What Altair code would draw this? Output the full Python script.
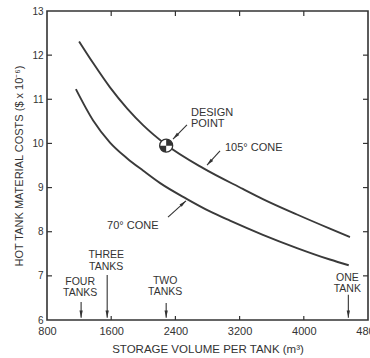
import altair as alt
import pandas as pd

# ---- data ----
x_ticks = [800, 1600, 2400, 3200, 4000, 4800]
y_ticks = [6, 7, 8, 9, 10, 11, 12, 13]

cone105_x = [1200, 1375, 1585, 1800, 2000, 2285, 2745, 3240, 3490, 3915, 4325, 4575]
cone105_y = [12.31, 11.82, 11.27, 10.79, 10.41, 9.97, 9.44, 8.97, 8.74, 8.39, 8.07, 7.88]

cone70_x = [1160, 1375, 1585, 1800, 2000, 2210, 2545, 2830, 3080, 3490, 3915, 4325, 4560]
cone70_y = [11.23, 10.52, 10.02, 9.66, 9.38, 9.10, 8.74, 8.46, 8.25, 7.93, 7.63, 7.37, 7.24]

design_x = [2285]
design_y = [9.95]

tank_line1 = ["FOUR", "THREE", "TWO", "ONE"]
tank_line2 = ["TANKS", "TANKS", "TANKS", "TANK"]
tank_x = [1225, 1550, 2285, 4555]
tank_y1 = [6.87, 7.47, 6.89, 6.96]
tank_y2 = [6.61, 7.21, 6.63, 6.70]
tank_arrow_top = [6.41, 7.02, 6.385, 6.57]
tank_arrow_tip = [6.05, 6.05, 6.05, 6.05]

note_text = ["DESIGN", "POINT", "105° CONE", "70° CONE"]
note_x = [2594, 2594, 3018, 1548]
note_y = [10.70, 10.44, 9.90, 8.13]

arrow_x = [2544, 2956, 2308]
arrow_y = [10.42, 9.83, 8.33]
arrow_tip_x = [2370, 2794, 2532]
arrow_tip_y = [10.10, 9.51, 8.70]
arrow_angle = [225, 223, 48]

# ---- layout / style ----
W, H = 321, 309
INK = "#333333"
FONT = "Liberation Sans"

xs = alt.Scale(domain=[800, 4800], nice=False, zero=False)
ys = alt.Scale(domain=[6, 13], nice=False, zero=False)

curves = pd.DataFrame({
    "v": cone105_x + cone70_x,
    "c": cone105_y + cone70_y,
    "s": ["105"] * len(cone105_x) + ["70"] * len(cone70_x),
})

base_line = alt.Chart(curves).mark_line(
    color="#3a3a3a", strokeWidth=1.9, interpolate="monotone"
).encode(
    x=alt.X("v:Q", scale=xs, axis=alt.Axis(
        values=x_ticks, format="d", domain=False, ticks=False, grid=False,
        labelFlush=False, labelOverlap=False, labelFont=FONT, labelFontSize=11,
        labelColor=INK, labelPadding=5, title="STORAGE VOLUME PER TANK (m³)",
        titleFont=FONT, titleFontSize=11.5, titleFontWeight="normal",
        titleColor=INK, titlePadding=7)),
    y=alt.Y("c:Q", scale=ys, axis=alt.Axis(
        values=y_ticks, domain=False, ticks=False, grid=False, labelFont=FONT,
        labelFontSize=10, labelColor=INK, labelPadding=4,
        title="HOT TANK MATERIAL COSTS ($ x 10⁻⁶)", titleFont=FONT,
        titleFontSize=11, titleFontWeight="normal", titleColor=INK, titlePadding=7)),
    detail="s:N",
)

# inward ticks
yt = pd.DataFrame({"t": y_ticks[1:-1]})
xt = pd.DataFrame({"t": x_ticks[1:-1]})
left_ticks = alt.Chart(yt).mark_rule(color=INK, strokeWidth=1.2).encode(
    y=alt.Y("t:Q", scale=ys), x=alt.value(0), x2=alt.value(5))
right_ticks = alt.Chart(yt).mark_rule(color=INK, strokeWidth=1.2).encode(
    y=alt.Y("t:Q", scale=ys), x=alt.value(W - 5), x2=alt.value(W))
bottom_ticks = alt.Chart(xt).mark_rule(color=INK, strokeWidth=1.2).encode(
    x=alt.X("t:Q", scale=xs), y=alt.value(H - 4), y2=alt.value(H))
top_ticks = alt.Chart(xt).mark_rule(color=INK, strokeWidth=1.2).encode(
    x=alt.X("t:Q", scale=xs), y=alt.value(0), y2=alt.value(5))

# design point
dp = pd.DataFrame({"v": design_x, "c": design_y})
dp_circle = alt.Chart(dp).mark_point(
    shape="circle", filled=True, fill="white", stroke=INK, strokeWidth=1.3,
    size=169, opacity=1
).encode(x=alt.X("v:Q", scale=xs), y=alt.Y("c:Q", scale=ys))
dp_quads = alt.Chart(dp).mark_point(
    shape="M0,0L0,-1A1,1,0,0,1,1,0Z M0,0L0,1A1,1,0,0,1,-1,0Z",
    filled=True, fill=INK, strokeWidth=0, size=169, opacity=1
).encode(x=alt.X("v:Q", scale=xs), y=alt.Y("c:Q", scale=ys))

# annotations
notes = pd.DataFrame({"t": note_text, "v": note_x, "c": note_y})
note_marks = alt.Chart(notes).mark_text(
    align="left", baseline="middle", font=FONT, fontSize=11, color=INK
).encode(x=alt.X("v:Q", scale=xs), y=alt.Y("c:Q", scale=ys), text="t:N")

arrows = pd.DataFrame({
    "v": arrow_x, "c": arrow_y, "v2": arrow_tip_x, "c2": arrow_tip_y, "a": arrow_angle,
})
arrow_lines = alt.Chart(arrows).mark_rule(color=INK, strokeWidth=1.1).encode(
    x=alt.X("v:Q", scale=xs), y=alt.Y("c:Q", scale=ys), x2="v2:Q", y2="c2:Q")
HEAD = "M0,0L-0.55,2.4L0.55,2.4Z"
arrow_heads = alt.Chart(arrows).mark_point(
    shape=HEAD, filled=True, fill=INK, strokeWidth=0, size=36, opacity=1
).encode(x=alt.X("v2:Q", scale=xs), y=alt.Y("c2:Q", scale=ys),
         angle=alt.Angle("a:Q", scale=None))

tanks = pd.DataFrame({
    "l1": tank_line1, "l2": tank_line2, "v": tank_x,
    "y1": tank_y1, "y2": tank_y2, "top": tank_arrow_top, "tip": tank_arrow_tip,
})
tank_text1 = alt.Chart(tanks).mark_text(
    align="center", baseline="middle", font=FONT, fontSize=10.5, color=INK, dx=-1
).encode(x=alt.X("v:Q", scale=xs), y=alt.Y("y1:Q", scale=ys), text="l1:N")
tank_text2 = alt.Chart(tanks).mark_text(
    align="center", baseline="middle", font=FONT, fontSize=10.5, color=INK, dx=-1
).encode(x=alt.X("v:Q", scale=xs), y=alt.Y("y2:Q", scale=ys), text="l2:N")
tank_lines = alt.Chart(tanks).mark_rule(color=INK, strokeWidth=1.1).encode(
    x=alt.X("v:Q", scale=xs), y=alt.Y("top:Q", scale=ys), y2="tip:Q")
tank_heads = alt.Chart(tanks).mark_point(
    shape=HEAD, filled=True, fill=INK, strokeWidth=0, size=36, opacity=1, angle=180
).encode(x=alt.X("v:Q", scale=xs), y=alt.Y("tip:Q", scale=ys))

chart = alt.layer(
    base_line, left_ticks, right_ticks, bottom_ticks, top_ticks,
    arrow_lines, arrow_heads, tank_lines, tank_heads,
    note_marks, tank_text1, tank_text2, dp_circle, dp_quads,
).properties(
    width=W, height=H,
    autosize="none",
    padding={"left": 47, "top": 11, "right": 2, "bottom": 38},
    background="white",
).configure_view(stroke=INK, strokeWidth=1.6)

chart.save("out.html", embed_options={"renderer": "svg", "actions": False})
